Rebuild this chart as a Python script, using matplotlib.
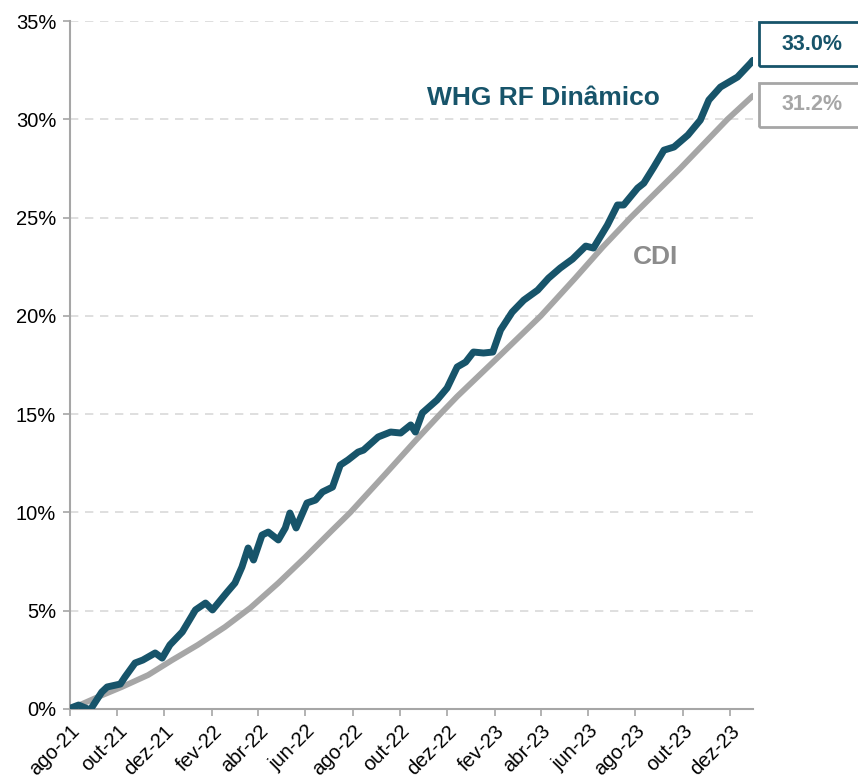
import matplotlib
matplotlib.use('Agg')
import matplotlib.pyplot as plt
import pandas as pd
from matplotlib.patches import Rectangle

plt.rcParams['font.family'] = ['Liberation Sans', 'DejaVu Sans']

# WHG RF Dinamico - accumulated return (%)
whg_dates = [
    '2021-08-02', '2021-08-12', '2021-08-27', '2021-09-11', '2021-09-18', '2021-10-05',
    '2021-10-11', '2021-10-24', '2021-11-03', '2021-11-19', '2021-11-28', '2021-12-08',
    '2021-12-24', '2022-01-10', '2022-01-23', '2022-02-01', '2022-02-20', '2022-03-02',
    '2022-03-11', '2022-03-19', '2022-03-26', '2022-04-06', '2022-04-14', '2022-04-27',
    '2022-05-06', '2022-05-12', '2022-05-20', '2022-06-03', '2022-06-14', '2022-06-23',
    '2022-07-06', '2022-07-16', '2022-07-26', '2022-08-08', '2022-08-15', '2022-09-03',
    '2022-09-19', '2022-10-02', '2022-10-15', '2022-10-21', '2022-10-30', '2022-11-18',
    '2022-12-01', '2022-12-14', '2022-12-25', '2023-01-04', '2023-01-17', '2023-01-29',
    '2023-02-08', '2023-02-23', '2023-03-10', '2023-03-28', '2023-04-11', '2023-04-26',
    '2023-05-12', '2023-05-29', '2023-06-08', '2023-06-26', '2023-07-09', '2023-07-17',
    '2023-08-04', '2023-08-12', '2023-08-25', '2023-09-07', '2023-09-20', '2023-10-08',
    '2023-10-24', '2023-11-04', '2023-11-19', '2023-12-11', '2023-12-28', '2023-12-31',
]
whg_values = [
    0.05, 0.2, -0.05, 0.86, 1.12, 1.27,
    1.63, 2.34, 2.49, 2.85, 2.59, 3.26,
    3.92, 5.04, 5.39, 5.04, 5.95, 6.41,
    7.22, 8.19, 7.58, 8.85, 9.00, 8.60,
    9.21, 9.97, 9.21, 10.48, 10.63, 11.04,
    11.29, 12.41, 12.67, 13.07, 13.17, 13.84,
    14.09, 14.04, 14.45, 14.09, 15.06, 15.72,
    16.33, 17.40, 17.65, 18.16, 18.11, 18.16,
    19.28, 20.19, 20.80, 21.31, 21.92, 22.43,
    22.89, 23.55, 23.45, 24.62, 25.64, 25.64,
    26.50, 26.75, 27.57, 28.43, 28.59, 29.20,
    29.96, 30.98, 31.64, 32.15, 32.86, 33.0,
]

# CDI - accumulated return (%)
cdi_dates = [
    '2021-08-02', '2021-09-06', '2021-10-07', '2021-11-10', '2021-12-11', '2022-01-13',
    '2022-02-17', '2022-03-22', '2022-04-27', '2022-06-01', '2022-07-06', '2022-07-29',
    '2022-09-12', '2022-10-20', '2022-11-22', '2022-12-14', '2023-02-05', '2023-04-01',
    '2023-05-15', '2023-06-20', '2023-07-26', '2023-09-28', '2023-11-28', '2023-12-31',
]
cdi_values = [
    0.0, 0.61, 1.12, 1.73, 2.49, 3.26,
    4.17, 5.15, 6.41, 7.73, 9.11, 10.0,
    11.94, 13.6, 15.0, 15.9, 17.9, 20.0,
    21.9, 23.5, 25.0, 27.5, 30.0, 31.2,
]

tick_dates = ['2021-08-01', '2021-10-01', '2021-12-01', '2022-02-01', '2022-04-01',
              '2022-06-01', '2022-08-01', '2022-10-01', '2022-12-01', '2023-02-01',
              '2023-04-01', '2023-06-01', '2023-08-01', '2023-10-01', '2023-12-01']
tick_labels = ['ago-21', 'out-21', 'dez-21', 'fev-22', 'abr-22', 'jun-22', 'ago-22',
               'out-22', 'dez-22', 'fev-23', 'abr-23', 'jun-23', 'ago-23', 'out-23',
               'dez-23']

teal = '#17546A'
grey = '#A6A6A6'
axis_grey = '#A6A6A6'

fig = plt.figure(figsize=(8.58, 7.81), dpi=100)
ax = fig.add_axes([0.0816, 0.0922, 0.796, 0.8809])

ax.plot(pd.to_datetime(cdi_dates), cdi_values, color=grey, lw=4.2,
        solid_capstyle='round', solid_joinstyle='round', zorder=3)
ax.plot(pd.to_datetime(whg_dates), whg_values, color=teal, lw=5,
        solid_capstyle='round', solid_joinstyle='round', zorder=4)

ax.set_xlim(pd.Timestamp('2021-08-01'), pd.Timestamp('2023-12-31'))
ax.set_ylim(0, 35)
ax.set_yticks(range(0, 36, 5))
ax.set_yticklabels([f'{v}%' for v in range(0, 36, 5)], fontsize=14.5)
ax.set_xticks(pd.to_datetime(tick_dates))
ax.set_xticklabels(tick_labels, rotation=45, ha='right', rotation_mode='anchor',
                   fontsize=14.5)

ax.grid(axis='y', color='#D9D9D9', linestyle=(0, (5, 4)), lw=1.2)
ax.set_axisbelow(True)
for side in ['top', 'right']:
    ax.spines[side].set_visible(False)
for side in ['left', 'bottom']:
    ax.spines[side].set_color(axis_grey)
    ax.spines[side].set_linewidth(1.5)
ax.tick_params(axis='both', color=axis_grey, width=1.2, length=5)
ax.tick_params(axis='y', pad=5)
ax.tick_params(axis='x', pad=4)

# series labels
ax.text(pd.Timestamp('2023-04-05'), 31.1, 'WHG RF Dinâmico', color=teal,
        fontsize=19, fontweight='bold', ha='center', va='center')
ax.text(pd.Timestamp('2023-08-27'), 23.0, 'CDI', color='#8C8C8C',
        fontsize=19, fontweight='bold', ha='center', va='center')

# end value boxes
fig.patches.append(Rectangle((759 / 858, 1 - 66 / 781), 0.2, 44 / 781,
                             transform=fig.transFigure, fill=False,
                             edgecolor=teal, lw=2, clip_on=False))
fig.patches.append(Rectangle((759 / 858, 1 - 127 / 781), 0.2, 44 / 781,
                             transform=fig.transFigure, fill=False,
                             edgecolor=grey, lw=2, clip_on=False))
fig.text(812 / 858, 1 - 44 / 781, f'{whg_values[-1]:.1f}%', color=teal,
         fontsize=15.5, fontweight='bold', ha='center', va='center')
fig.text(812 / 858, 1 - 105 / 781, f'{cdi_values[-1]:.1f}%', color=grey,
         fontsize=15.5, fontweight='bold', ha='center', va='center')

fig.savefig('out.png', dpi=100)
